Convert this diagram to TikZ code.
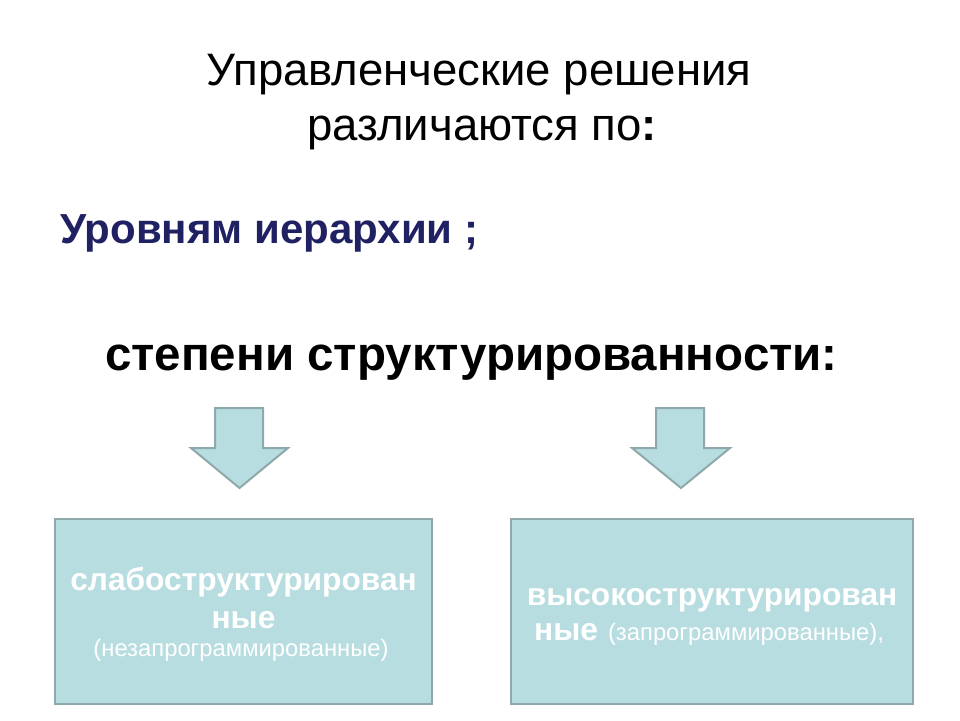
\documentclass[tikz,border=0pt]{standalone}
\usepackage{fontspec}
\setmainfont{Liberation Sans}
\definecolor{boxfill}{HTML}{B7DDE0}
\definecolor{boxline}{HTML}{8FA8AB}
\definecolor{navy}{HTML}{1F2163}
\begin{document}
\begin{tikzpicture}[x=1pt,y=-1pt,
  title/.style={font=\fontsize{45.5}{50}\selectfont, anchor=base, inner sep=0pt},
  boxstyle/.style={draw=boxline, line width=2.2pt, fill=boxfill},
  arrowstyle/.style={draw=boxline, line width=2pt, fill=boxfill, line join=miter},
  btext/.style={text=white, font=\bfseries\fontsize{31.7}{36}\selectfont, anchor=base, inner sep=0pt},
  stext/.style={text=white, font=\fontsize{23.8}{28}\selectfont, anchor=base, inner sep=0pt}]
\useasboundingbox (0,0) rectangle (960,720);
\fill[white] (0,0) rectangle (960,720);
\node[title] (t1) at (479,85) {Управленческие решения};
\node[title] (t2) at (482,140) {различаются по\textbf{:}};
\node[anchor=base west, inner sep=0pt, text=navy, font=\bfseries\fontsize{42}{46}\selectfont] (lvl) at (60,243) {Уровням иерархии ;};
\node[title, anchor=base west, font=\bfseries\fontsize{47.5}{52}\selectfont] (deg) at (105,370) {степени структурированности:};
% arrows
\draw[arrowstyle] (215,408) -- (263,408) -- (263,448) -- (288,448) -- (239.5,488) -- (191,448) -- (215,448) -- cycle;
\draw[arrowstyle] (656,408) -- (704,408) -- (704,448) -- (730,448) -- (681,488) -- (632,448) -- (656,448) -- cycle;
% boxes
\draw[boxstyle] (55,519) rectangle (432,704);
\node (lbox) at (243.5,611.5) {};
\draw[boxstyle] (511,519) rectangle (913,704);
\node (rbox) at (712,611.5) {};
\node[btext] (l1) at (243.5,590) {слабоструктурирован};
\node[btext] (l2) at (243.5,628) {ные};
\node[stext] (l3) at (241,656) {(незапрограммированные)};
\node[btext] (r1) at (712,605) {высокоструктурирован};
\node[anchor=base west, inner sep=0pt, text=white] (r2) at (534,640) {{\bfseries\fontsize{31.7}{36}\selectfont ные}\hspace{10pt}{\fontsize{23.8}{28}\selectfont (запрограммированные),}};
\end{tikzpicture}
\end{document}
